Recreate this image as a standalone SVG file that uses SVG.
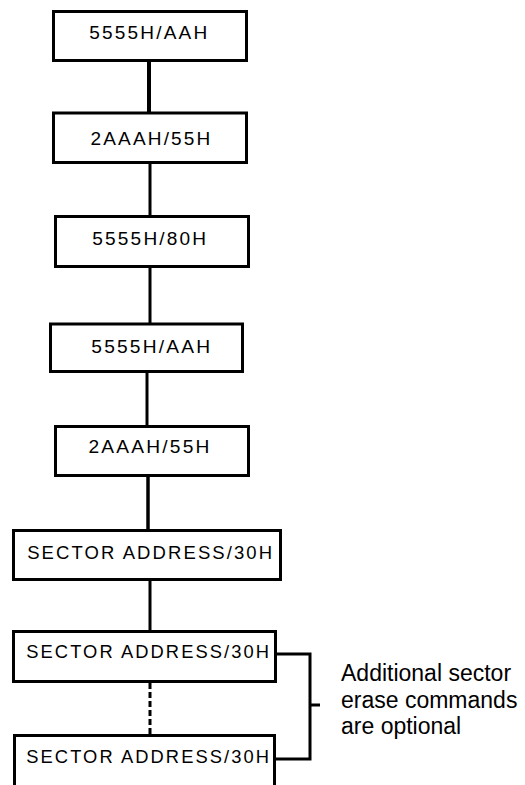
<svg xmlns="http://www.w3.org/2000/svg" width="525" height="785" viewBox="0 0 525 785">
<style>
.box{fill:#fff;stroke:#000;stroke-width:3}
.lbl{font-family:"Liberation Sans",Arial,sans-serif;font-size:17.5px;letter-spacing:2px;fill:#000}
.note{font-family:"Liberation Sans",Arial,sans-serif;font-size:23px;fill:#000}
.ln{stroke:#000;stroke-width:3;fill:none}
</style>
<rect width="525" height="785" fill="#fff"/>
<g id="connectors">
<line class="ln" x1="149" y1="61" x2="149" y2="113" style="stroke-width:4"/>
<line class="ln" x1="150" y1="164" x2="150" y2="216"/>
<line class="ln" x1="150" y1="267" x2="150" y2="323"/>
<line class="ln" x1="147" y1="372" x2="147" y2="426"/>
<line class="ln" x1="148" y1="476" x2="148" y2="530" style="stroke-width:3.5"/>
<line class="ln" x1="150" y1="580" x2="150" y2="631"/>
<line class="ln" x1="150" y1="683" x2="150" y2="735" stroke-dasharray="6 3"/>
<polyline class="ln" points="276,654 310,654 310,759 276,759"/>
<line class="ln" x1="310" y1="705" x2="320" y2="705"/>
</g>
<g id="n1"><rect class="box" x="53.5" y="11.5" width="193" height="49"/><text class="lbl" x="89.3" y="39" textLength="120" lengthAdjust="spacingAndGlyphs">5555H/AAH</text></g>
<g id="n2"><rect class="box" x="53.5" y="113" width="193" height="49.5"/><text class="lbl" x="90.5" y="145" textLength="122" lengthAdjust="spacingAndGlyphs">2AAAH/55H</text></g>
<g id="n3"><rect class="box" x="55.5" y="216.5" width="193" height="50"/><text class="lbl" x="92.3" y="245" textLength="116" lengthAdjust="spacingAndGlyphs">5555H/80H</text></g>
<g id="n4"><rect class="box" x="50.5" y="324" width="192" height="47.5"/><text class="lbl" x="91.3" y="353" textLength="121" lengthAdjust="spacingAndGlyphs">5555H/AAH</text></g>
<g id="n5"><rect class="box" x="55.5" y="426.5" width="193" height="49"/><text class="lbl" x="88.5" y="453" textLength="123" lengthAdjust="spacingAndGlyphs">2AAAH/55H</text></g>
<g id="n6"><rect class="box" x="13.5" y="530.5" width="267" height="49"/><text class="lbl" x="27.2" y="559" textLength="247" lengthAdjust="spacingAndGlyphs">SECTOR ADDRESS/30H</text></g>
<g id="n7"><rect class="box" x="13.5" y="631.5" width="262" height="50"/><text class="lbl" x="26.2" y="658" textLength="245" lengthAdjust="spacingAndGlyphs">SECTOR ADDRESS/30H</text></g>
<g id="n8"><rect class="box" x="14.5" y="735.5" width="260" height="60"/><text class="lbl" x="26.2" y="763" textLength="245" lengthAdjust="spacingAndGlyphs">SECTOR ADDRESS/30H</text></g>
<g id="note">
<text class="note" x="341" y="681">Additional sector</text>
<text class="note" x="341" y="708">erase commands</text>
<text class="note" x="341" y="734">are optional</text>
</g>
</svg>
